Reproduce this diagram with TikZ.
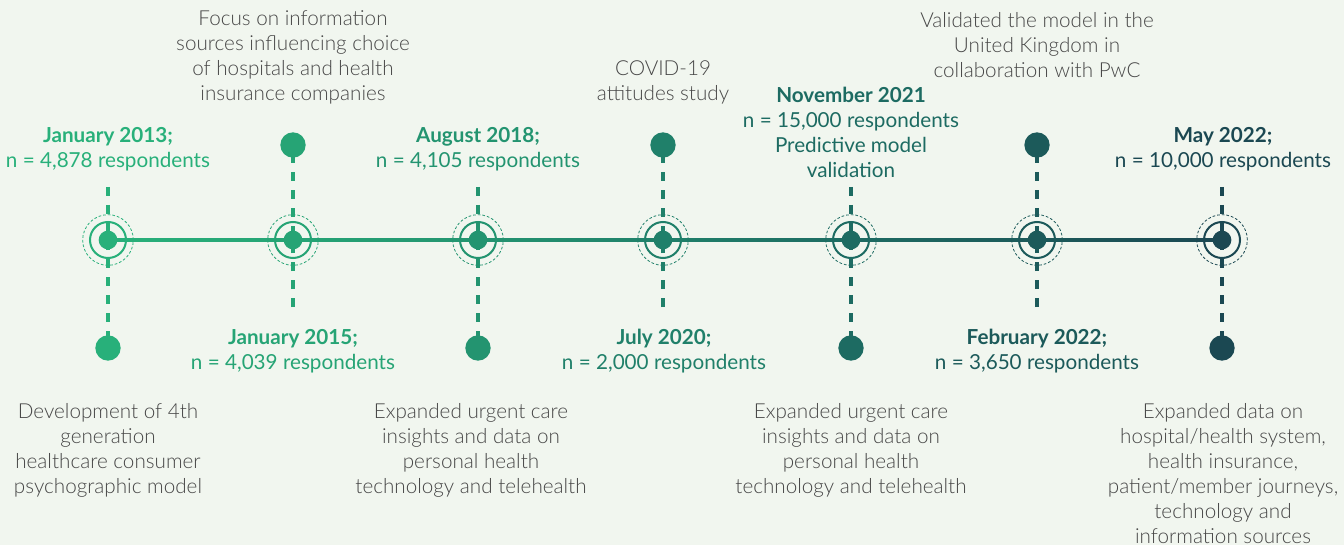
\documentclass[tikz,border=0pt]{standalone}
\usepackage{fontspec}
\setmainfont{Lato}
\newfontfamily\lightfont{Lato Light}
\usetikzlibrary{calc}

\definecolor{bg}{HTML}{F1F6EF}
\definecolor{c1}{HTML}{28B07A}
\definecolor{c2}{HTML}{26A475}
\definecolor{c3}{HTML}{239470}
\definecolor{c4}{HTML}{20806A}
\definecolor{c5}{HTML}{1D6B62}
\definecolor{c6}{HTML}{1C5A5A}
\definecolor{c7}{HTML}{1B4852}
\definecolor{desc}{HTML}{474747}

\begin{document}
\begin{tikzpicture}[x=0.75pt,y=-0.75pt,
  every node/.style={font=\fontsize{15.5}{18.75}\selectfont, align=center, inner sep=0pt},
  stem/.style={line width=3pt, dash pattern=on 7.1pt off 6.4pt},
  ring/.style={line width=1.5pt},
  ringdash/.style={line width=0.6pt, dash pattern=on 2pt off 1.5pt},
  hubdot/.style={circle, minimum size=14pt},
  enddot/.style={circle, minimum size=19pt},
  desclabel/.style={text=desc, font=\fontsize{15.5}{18.75}\selectfont\lightfont}]

% canvas
\fill[bg] (0,0) rectangle (1344,545);
\useasboundingbox (0,0) rectangle (1344,545);

% milestone positions on the time axis
\foreach \i/\x in {1/108,2/293,3/478,4/663,5/851,6/1037,7/1222}
  \coordinate (m\i) at (\x,240);

% time axis, colour blending from one milestone to the next
\foreach \i in {1,...,6} {
  \pgfmathtruncatemacro\j{\i+1}
  \shade[left color=c\i, right color=c\j] ($(m\i)+(0,-1.2pt)$) rectangle ($(m\j)+(0,1.2pt)$);
}

% dashed stems: dot above (1) or below (0) the axis
\foreach \i/\x/\up in {1/108/0,2/293/1,3/478/0,4/663/1,5/851/0,6/1037/1,7/1222/0} {
  \ifnum\up=1
    \coordinate (e\i) at (\x,145);
    \coordinate (s\i) at (\x,307);
  \else
    \coordinate (e\i) at (\x,348);
    \coordinate (s\i) at (\x,187);
  \fi
  \draw[stem, c\i] (s\i) -- (e\i);
  \node[enddot, fill=c\i] (d\i) at (e\i) {};
  \draw[ringdash, c\i] (m\i) circle[radius=19pt];
  \draw[ring, c\i] (m\i) circle[radius=13.5pt];
  \node[hubdot, fill=c\i] (h\i) at (m\i) {};
}

% labels above the axis
\node[desclabel] (t2) at (293,57.5) {Focus on information\\sources influencing choice\\of hospitals and health\\insurance companies};
\node[text=c1] (t1) at (108,149.5) {\bfseries January 2013;\\n = 4,878 respondents};
\node[text=c3] (t3) at (478,149.5) {\bfseries August 2018;\\n = 4,105 respondents};
\node[desclabel] (t4) at (663,82) {COVID-19\\attitudes study};
\node[text=c5] (t5) at (851,132.5) {\bfseries November 2021\\n = 15,000 respondents\\Predictive model\\validation};
\node[desclabel] (t6) at (1037,45.5) {Validated the model in the\\United Kingdom in\\collaboration with PwC};
\node[text=c7] (t7) at (1223,149.5) {\bfseries May 2022;\\n = 10,000 respondents};

% labels below the axis
\node[desclabel] (b1) at (108,450.5) {Development of 4th\\generation\\healthcare consumer\\psychographic model};
\node[text=c2] (b2) at (293,351.5) {\bfseries January 2015;\\n = 4,039 respondents};
\node[desclabel] (b3) at (471,450.5) {Expanded urgent care\\insights and data on\\personal health\\technology and telehealth};
\node[text=c4] (b4) at (664,351.5) {\bfseries July 2020;\\n = 2,000 respondents};
\node[desclabel] (b5) at (851,450.5) {Expanded urgent care\\insights and data on\\personal health\\technology and telehealth};
\node[text=c6] (b6) at (1037,351.5) {\bfseries February 2022;\\n = 3,650 respondents};
\node[desclabel] (b7) at (1223,474) {Expanded data on\\hospital/health system,\\health insurance,\\patient/member journeys,\\technology and\\information sources};
\end{tikzpicture}
\end{document}
